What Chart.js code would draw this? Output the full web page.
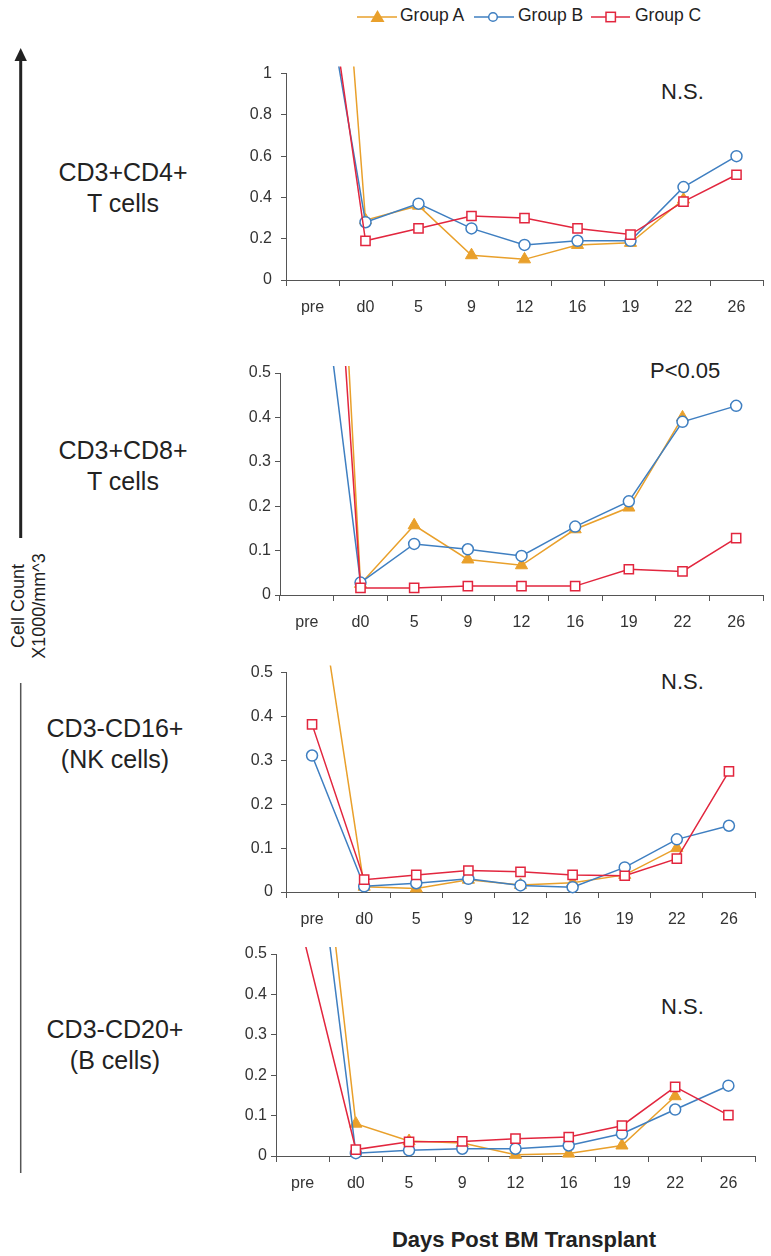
<!DOCTYPE html>
<html>
<head>
<meta charset="utf-8">
<script src="https://cdn.jsdelivr.net/npm/chart.js@4.4.1/dist/chart.umd.min.js"></script>
<style>
  body { margin: 0; background: #fff; font-family: 'Liberation Sans', Arial, sans-serif; color: #222; }
  #page { position: relative; width: 771px; height: 1256px; overflow: hidden; }
  canvas { position: absolute; left: 240px; }
  .lab { position: absolute; text-align: center; font-size: 25px; line-height: 31px; width: 200px; }
  .note { position: absolute; font-size: 22px; line-height: 24px; }
  .leg { position: absolute; top: 5px; font-size: 17.5px; line-height: 20px; color: #222; }
  .rot { position: absolute; width: 140px; height: 20px; line-height: 20px; font-size: 18px; text-align: center; transform: rotate(-90deg); }
</style>
</head>
<body>
<div id="page">
  <svg width="240" height="1256" style="position:absolute;left:0;top:0">
    <line x1="20.7" y1="58" x2="20.7" y2="538" stroke="#222" stroke-width="3"/>
    <polygon points="20.7,48 14.5,61 26.9,61" fill="#222"/>
    <line x1="20.7" y1="683" x2="20.7" y2="1173" stroke="#555" stroke-width="1.5"/>
  </svg>
  <svg width="771" height="40" style="position:absolute;left:0;top:0">
    <line x1="357" y1="17" x2="397" y2="17" stroke="#E9A02B" stroke-width="1.5"/>
    <polygon points="377.5,10 384.5,22 370.5,22" fill="#E9A02B"/>
    <line x1="474" y1="17" x2="514" y2="17" stroke="#3F7FC1" stroke-width="1.5"/>
    <circle cx="493" cy="17" r="4.3" fill="#fff" stroke="#3F7FC1" stroke-width="1.5"/>
    <line x1="591" y1="17" x2="630" y2="17" stroke="#E2263E" stroke-width="1.5"/>
    <rect x="606" y="12.3" width="9.4" height="9.4" fill="#fff" stroke="#E2263E" stroke-width="1.5"/>
  </svg>
  <div class="leg" style="left:400px">Group A</div>
  <div class="leg" style="left:518px">Group B</div>
  <div class="leg" style="left:635px">Group C</div>

  <div class="lab" style="left:23px;top:157px">CD3+CD4+<br>T cells</div>
  <div class="lab" style="left:23px;top:435px">CD3+CD8+<br>T cells</div>
  <div class="lab" style="left:15px;top:713px">CD3-CD16+<br>(NK cells)</div>
  <div class="lab" style="left:15px;top:1014px">CD3-CD20+<br>(B cells)</div>

  <div class="rot" style="left:-52px;top:596px">Cell Count</div>
  <div class="rot" style="left:-31px;top:596px">X1000/mm^3</div>

  <div class="note" style="left:661px;top:80px">N.S.</div>
  <div class="note" style="left:650px;top:359px">P&lt;0.05</div>
  <div class="note" style="left:661px;top:670px">N.S.</div>
  <div class="note" style="left:661px;top:995px">N.S.</div>

  <div style="position:absolute;left:324px;top:1227px;width:400px;text-align:center;font-size:22px;line-height:26px;font-weight:bold;color:#222">Days Post BM Transplant</div>

  <canvas id="cd4" width="531" height="265" style="top:55px"></canvas>
  <canvas id="cd8" width="531" height="276" style="top:359px"></canvas>
  <canvas id="nk" width="531" height="277" style="top:655px"></canvas>
  <canvas id="bcell" width="531" height="256" style="top:940px"></canvas>
</div>
<script>
const days = ['pre', 'd0', '5', '9', '12', '16', '19', '22', '26'];

// CD3+CD4+ T cells (first value runs off the top of the plot)
const cd4A = [3.66, 0.29, 0.36, 0.12, 0.10, 0.17, 0.18, 0.39, null];
const cd4B = [1.78, 0.28, 0.37, 0.25, 0.17, 0.19, 0.19, 0.45, 0.60];
const cd4C = [1.98, 0.19, 0.25, 0.31, 0.30, 0.25, 0.22, 0.38, 0.51];

// CD3+CD8+ T cells
const cd8A = [2.29, 0.025, 0.157, 0.080, 0.067, 0.148, 0.197, 0.400, null];
const cd8B = [1.00, 0.028, 0.115, 0.103, 0.088, 0.154, 0.211, 0.390, 0.426];
const cd8C = [1.82, 0.016, 0.016, 0.020, 0.020, 0.020, 0.058, 0.053, 0.128];

// CD3-CD16+ NK cells
const nkA = [0.79, 0.012, 0.008, 0.028, 0.016, 0.021, 0.039, 0.100, null];
const nkB = [0.311, 0.013, 0.020, 0.030, 0.015, 0.011, 0.056, 0.120, 0.151];
const nkC = [0.382, 0.028, 0.039, 0.049, 0.046, 0.039, 0.037, 0.076, 0.275];

// CD3-CD20+ B cells
const bA = [1.24, 0.080, 0.037, 0.032, 0.003, 0.006, 0.026, 0.148, null];
const bB = [1.06, 0.007, 0.014, 0.018, 0.018, 0.026, 0.055, 0.115, 0.174];
const bC = [0.55, 0.016, 0.035, 0.036, 0.043, 0.047, 0.075, 0.171, 0.101];

const orange = '#E9A02B';
const blue = '#3F7FC1';
const red = '#E2263E';
const axisColor = '#555';
const clipBox = {left: 10, top: 7, right: 10, bottom: 12};

Chart.defaults.font.family = "'Liberation Sans', Arial, sans-serif";

function panel(id, a, b, c, yMax, yStep, yWidth, yPad, padRight) {
  return new Chart(document.getElementById(id), {
    type: 'line',
    data: {
      labels: days,
      datasets: [
        {
          label: 'Group A', data: a, order: 3, clip: clipBox,
          borderColor: orange, backgroundColor: orange, borderWidth: 1.5,
          pointStyle: 'triangle', pointRadius: 7,
          pointBackgroundColor: orange, pointBorderColor: orange, pointBorderWidth: 1
        },
        {
          label: 'Group B', data: b, order: 2, clip: clipBox,
          borderColor: blue, backgroundColor: '#fff', borderWidth: 1.5,
          pointStyle: 'circle', pointRadius: 5.5,
          pointBackgroundColor: '#fff', pointBorderColor: blue, pointBorderWidth: 1.5
        },
        {
          label: 'Group C', data: c, order: 1, clip: clipBox,
          borderColor: red, backgroundColor: '#fff', borderWidth: 1.5,
          pointStyle: 'rect', pointRadius: 6.5,
          pointBackgroundColor: '#fff', pointBorderColor: red, pointBorderWidth: 1.5
        }
      ]
    },
    options: {
      responsive: false,
      animation: false,
      layout: {padding: {top: 14, right: padRight, left: 0, bottom: 0}},
      plugins: {legend: {display: false}, tooltip: {enabled: false}},
      scales: {
        x: {
          offset: true,
          grid: {offset: true, drawOnChartArea: false, tickLength: 6, color: axisColor},
          border: {color: axisColor},
          ticks: {color: '#333', font: {size: 16}, padding: 12, autoSkip: false, maxRotation: 0},
          afterFit: function(s) { s.height = 40; }
        },
        y: {
          min: 0,
          max: yMax,
          grid: {drawOnChartArea: false, tickLength: 5, color: axisColor},
          border: {color: axisColor},
          ticks: {
            stepSize: yStep, color: '#333', font: {size: 16}, padding: yPad,
            callback: function(v) { return String(+v.toFixed(2)); }
          },
          afterFit: function(s) { s.width = yWidth; }
        }
      }
    }
  });
}

panel('cd4', cd4A, cd4B, cd4C, 1, 0.2, 46, 9, 5);
panel('cd8', cd8A, cd8B, cd8C, 0.5, 0.1, 40, 4, 5);
panel('nk', nkA, nkB, nkC, 0.5, 0.1, 46, 8, 16);
panel('bcell', bA, bB, bC, 0.5, 0.1, 36, 4, 16);
</script>
</body>
</html>
